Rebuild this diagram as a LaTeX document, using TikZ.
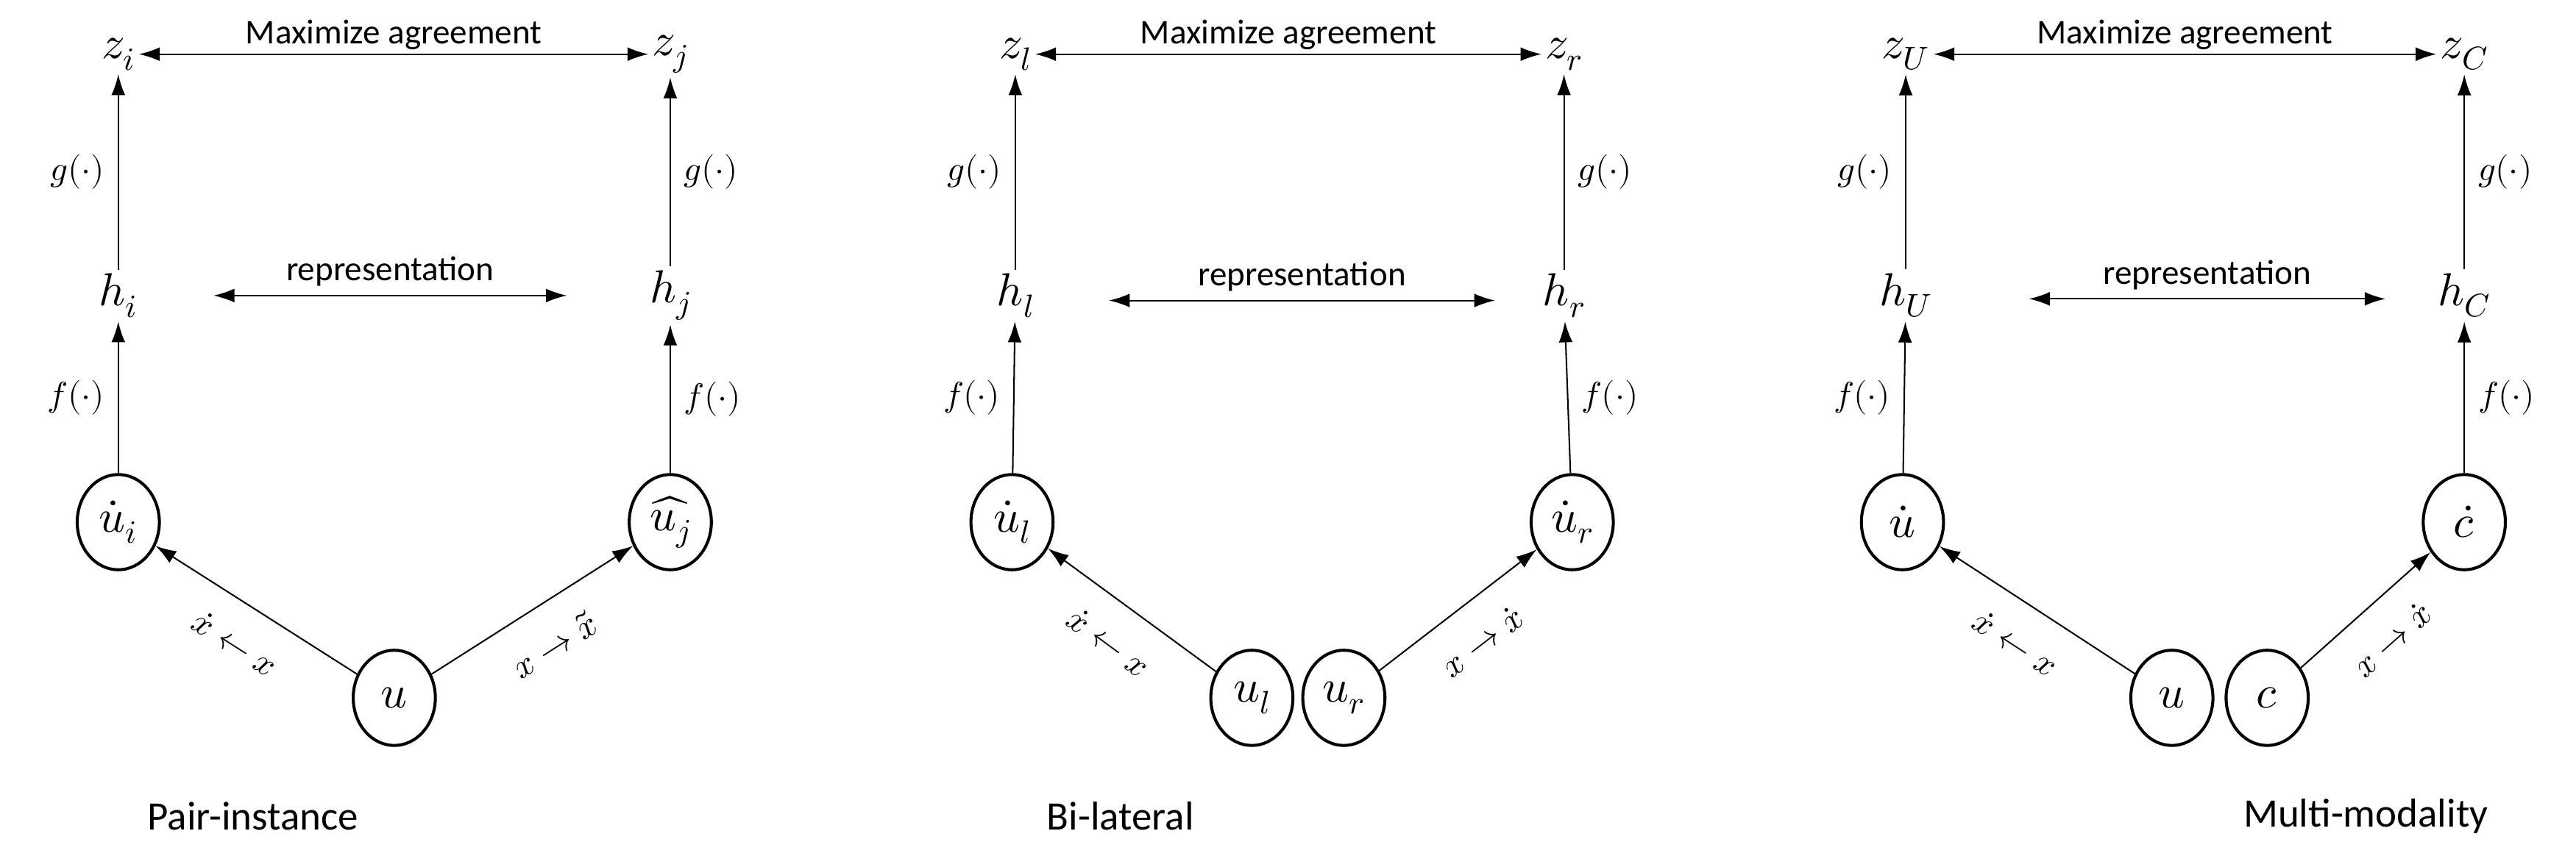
\documentclass[tikz,border=0pt]{standalone}
\usepackage{fontspec}
\usepackage{unicode-math}
\setmainfont{Carlito}
\setmathfont{Latin Modern Math}
\usetikzlibrary{positioning,shapes.geometric,arrows.meta}

\tikzset{
  var/.style={font=\fontsize{40}{46}\selectfont},
  unit/.style={ellipse, draw, line width=2.6pt, minimum width=2.5cm, minimum height=2.9cm, inner sep=0pt, font=\fontsize{40}{46}\selectfont},
  lbl/.style={font=\fontsize{30}{34}\selectfont},
  aug/.style={font=\fontsize{30}{34}\selectfont, sloped},
  title/.style={font=\fontsize{35}{40}\selectfont},
  arr/.style={-{Latex[length=18pt,width=12pt]}, line width=1.3pt},
  both/.style={{Latex[length=18pt,width=12pt]}-{Latex[length=18pt,width=12pt]}, line width=1.3pt}
}

\begin{document}
\begin{tikzpicture}[x=0.05cm, y=-0.05cm]
	\useasboundingbox (0,0) rectangle (1568,521);

	% Pair-instance
	\node[var] (zi) at (72,33) {$z_i$};
	\node[var] (zj) at (408,33) {$z_j$};
	\node[var] (hi) at (72,180) {$h_i$};
	\node[var] (hj) at (408,180) {$h_j$};
	\node[unit] (ui) at (72,318) {$\dot{u}_i$};
	\node[unit] (uj) at (408,318) {$\widehat{u_j}$};
	\node[unit] (u) at (240,425) {$u$};
	\node[title] (t1) at (154,497) {Pair-instance};
	\draw[both] (zi) -- node[lbl, above] {Maximize agreement} (zj);
	\draw[both] (130,180) coordinate (ri) -- node[lbl, above=4pt] {representation} (345,180) coordinate (rj);
	\draw[arr] (hi) -- node[lbl, left=8pt] {$g(\cdot)$} (zi);
	\draw[arr] (hj) -- node[lbl, right=8pt] {$g(\cdot)$} (zj);
	\draw[arr] (ui) -- node[lbl, left=8pt] {$f(\cdot)$} (hi);
	\draw[arr] (uj) -- node[lbl, right=8pt] {$f(\cdot)$} (hj);
	\draw[arr] (u) -- node[aug, below=20pt] {$\dot{x} \leftarrow x$} (ui);
	\draw[arr] (u) -- node[aug, below=20pt] {$x \rightarrow \tilde{x}$} (uj);

	% Bi-lateral
	\node[var] (zl) at (618,33) {$z_l$};
	\node[var] (zr) at (952,33) {$z_r$};
	\node[var] (hl) at (618,180) {$h_l$};
	\node[var] (hr) at (952,180) {$h_r$};
	\node[unit] (uld) at (616,318) {$\dot{u}_l$};
	\node[unit] (urd) at (957,318) {$\dot{u}_r$};
	\node[unit] (ul) at (762,425) {$u_l$};
	\node[unit] (ur) at (818,425) {$u_r$};
	\node[title] (t2) at (682,497) {Bi-lateral};
	\draw[both] (zl) -- node[lbl, above] {Maximize agreement} (zr);
	\draw[both] (675,183) coordinate (rl) -- node[lbl, above=4pt] {representation} (910,183) coordinate (rr);
	\draw[arr] (hl) -- node[lbl, left=8pt] {$g(\cdot)$} (zl);
	\draw[arr] (hr) -- node[lbl, right=8pt] {$g(\cdot)$} (zr);
	\draw[arr] (uld) -- node[lbl, left=8pt] {$f(\cdot)$} (hl);
	\draw[arr] (urd) -- node[lbl, right=8pt] {$f(\cdot)$} (hr);
	\draw[arr] (ul) -- node[aug, below=20pt] {$\dot{x} \leftarrow x$} (uld);
	\draw[arr] (ur) -- node[aug, below=20pt] {$x \rightarrow \dot{x}$} (urd);

	% Multi-modality
	\node[var] (zU) at (1160,33) {$z_U$};
	\node[var] (zC) at (1500,33) {$z_C$};
	\node[var] (hU) at (1160,180) {$h_U$};
	\node[var] (hC) at (1500,180) {$h_C$};
	\node[unit] (ud) at (1158,318) {$\dot{u}$};
	\node[unit] (cd) at (1500,318) {$\dot{c}$};
	\node[unit] (um) at (1322,425) {$u$};
	\node[unit] (cm) at (1380,425) {$c$};
	\node[title] (t3) at (1440,497) {Multi-modality};
	\draw[both] (zU) -- node[lbl, above] {Maximize agreement} (zC);
	\draw[both] (1235,182) coordinate (rU) -- node[lbl, above=4pt] {representation} (1452,182) coordinate (rC);
	\draw[arr] (hU) -- node[lbl, left=8pt] {$g(\cdot)$} (zU);
	\draw[arr] (hC) -- node[lbl, right=8pt] {$g(\cdot)$} (zC);
	\draw[arr] (ud) -- node[lbl, left=8pt] {$f(\cdot)$} (hU);
	\draw[arr] (cd) -- node[lbl, right=8pt] {$f(\cdot)$} (hC);
	\draw[arr] (um) -- node[aug, below=20pt] {$\dot{x} \leftarrow x$} (ud);
	\draw[arr] (cm) -- node[aug, below=20pt] {$x \rightarrow \dot{x}$} (cd);
\end{tikzpicture}
\end{document}
